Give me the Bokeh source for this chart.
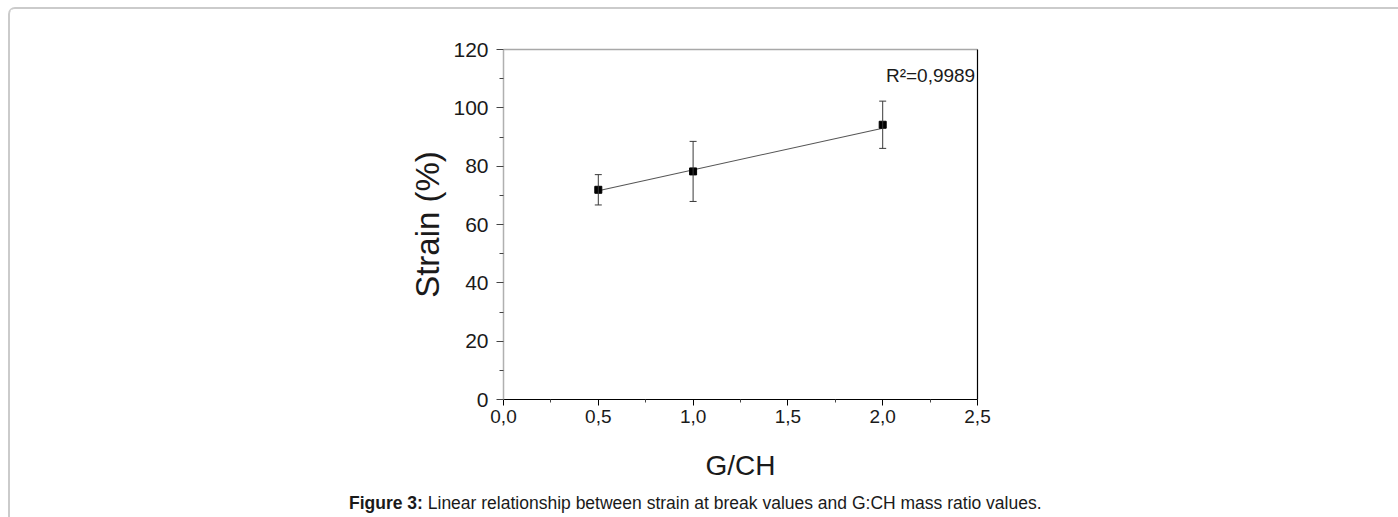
from bokeh.plotting import figure
from bokeh.layouts import column
from bokeh.models import Range1d, FixedTicker, LinearAxis, Whisker, ColumnDataSource, Label, TeeHead, Div
from bokeh.embed import file_html
from bokeh.resources import INLINE

# ---- data ----
ratio = [0.5, 1.0, 2.0]
strain = [71.9, 78.2, 94.2]
strain_err = [5.2, 10.3, 8.1]
fit_x = [0.5, 2.0]
fit_y = [71.6, 93.0]
r2_text = "R\u00b2=0,9989"
x_ticks = [0.0, 0.5, 1.0, 1.5, 2.0, 2.5]
x_tick_labels = ["0,0", "0,5", "1,0", "1,5", "2,0", "2,5"]
x_minor = [0.25, 0.75, 1.25, 1.75, 2.25]
y_ticks = [0, 20, 40, 60, 80, 100, 120]
y_minor = [10, 30, 50, 70, 90, 110]
x_title = "G/CH"
y_title = "Strain (%)"
cap_bold = "Figure 3:"
cap_text = "Linear relationship between strain at break values and G:CH mass ratio values."

SANS = "Liberation Sans"
TXT = "#1a1a1a"
W = 1388

p = figure(width=W, height=476, output_backend="svg", toolbar_location=None,
           x_range=Range1d(0, 2.5), y_range=Range1d(0, 120),
           min_border_left=493, min_border_right=W - 493 - 474, min_border_top=40, min_border_bottom=86,
           x_axis_label=x_title, y_axis_label=y_title)
p.grid.visible = False
p.outline_line_color = None
p.background_fill_color = "white"
p.border_fill_color = "white"

# bottom axis
xa = p.xaxis[0]
xa.ticker = FixedTicker(ticks=x_ticks, minor_ticks=x_minor)
xa.major_label_overrides = {t: l for t, l in zip(x_ticks, x_tick_labels)}
xa.axis_line_color = "black"
xa.major_tick_line_color = "black"
xa.minor_tick_line_color = "#444444"
xa.major_tick_in = 0
xa.major_tick_out = 6
xa.minor_tick_in = 0
xa.minor_tick_out = 3
xa.major_label_text_font = SANS
xa.major_label_text_font_size = "19px"
xa.major_label_text_color = TXT
xa.major_label_standoff = 4
xa.axis_label_text_font = SANS
xa.axis_label_text_font_size = "28px"
xa.axis_label_text_font_style = "normal"
xa.axis_label_text_color = TXT
xa.axis_label_standoff = 24

# left axis
ya = p.yaxis[0]
ya.ticker = FixedTicker(ticks=y_ticks, minor_ticks=y_minor)
ya.axis_line_color = "#b0b0b0"
ya.axis_line_width = 1.5
ya.major_tick_line_color = "#444444"
ya.minor_tick_line_color = "#444444"
ya.major_tick_in = 0
ya.major_tick_out = 7
ya.minor_tick_in = 0
ya.minor_tick_out = 4
ya.major_label_text_font = SANS
ya.major_label_text_font_size = "21px"
ya.major_label_text_color = TXT
ya.major_label_standoff = 8
ya.axis_label_text_font = SANS
ya.axis_label_text_font_size = "33px"
ya.axis_label_text_font_style = "normal"
ya.axis_label_text_color = TXT
ya.axis_label_standoff = 4

# top and right frame lines
top = LinearAxis(ticker=FixedTicker(ticks=[]), major_label_text_font_size="0px",
                 axis_line_color="#a8a8a8", axis_line_width=1.5,
                 major_tick_line_color=None, minor_tick_line_color=None)
right = LinearAxis(ticker=FixedTicker(ticks=[]), major_label_text_font_size="0px",
                   axis_line_color="black", axis_line_width=1.2,
                   major_tick_line_color=None, minor_tick_line_color=None)
p.add_layout(top, "above")
p.add_layout(right, "right")

# fit line
p.line(fit_x, fit_y, line_color="#555555", line_width=1.1)

# error bars
src = ColumnDataSource(data=dict(
    x=ratio, y=strain,
    upper=[s + e for s, e in zip(strain, strain_err)],
    lower=[s - e for s, e in zip(strain, strain_err)]))
wh = Whisker(source=src, base="x", upper="upper", lower="lower", dimension="height",
             line_color="#3a3a3a", line_width=1,
             upper_head=TeeHead(size=7, line_color="#3a3a3a", line_width=1),
             lower_head=TeeHead(size=7, line_color="#3a3a3a", line_width=1))
wh.level = "glyph"
p.add_layout(wh)

# markers
p.scatter("x", "y", source=src, marker="square", size=7, fill_color="black", line_color="black")

# R^2 annotation
p.add_layout(Label(x=2.017, y=111, text=r2_text, text_font=SANS, text_font_size="19px",
                   text_color=TXT, text_baseline="alphabetic", text_align="left"))

# caption
cap = Div(width=W, height=32,
          text=('<div style="font-family: \'Liberation Sans\', sans-serif; font-size: 17.5px; '
                'color: #1a1a1a; margin-left: 334px; padding-top: 1px; line-height: 24px; '
                'white-space: nowrap;"><b>' + cap_bold + '</b> ' + cap_text + '</div>'))

page = column(p, cap, spacing=0,
              styles={"margin-left": "8px", "margin-top": "7px",
                      "border-left": "2px solid #cbcbcb", "border-top": "2px solid #cbcbcb",
                      "border-top-left-radius": "7px"})

open("out.html", "w").write(file_html(page, INLINE))
